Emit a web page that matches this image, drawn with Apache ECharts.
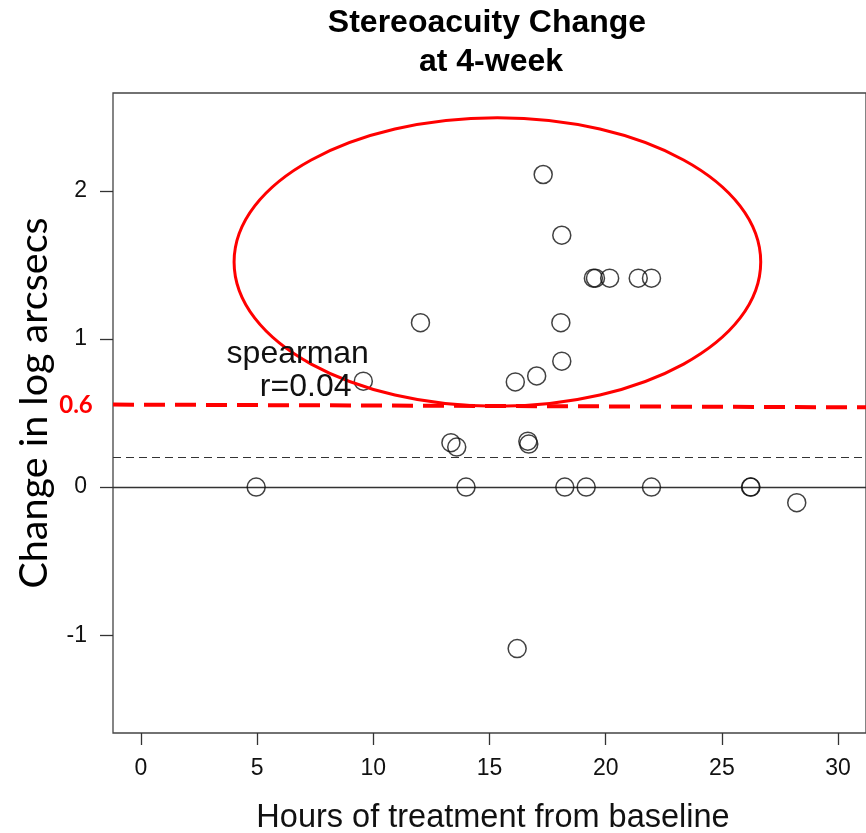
<!DOCTYPE html>
<html><head><meta charset="utf-8">
<script src="https://cdn.jsdelivr.net/npm/echarts@6/dist/echarts.min.js"></script>
<style>html,body{margin:0;padding:0;background:#fff}#c{width:866px;height:833px}</style>
</head><body><div id="c"></div>
<script>
// ---- data ----
const hours  = [4.96, 9.57, 12.03, 13.34, 13.59, 13.99, 16.11, 16.19, 16.65, 16.69, 17.03, 17.31, 18.07, 18.11, 18.11, 18.24, 19.16, 19.47, 19.56, 20.17, 21.40, 21.97, 21.97, 26.23, 26.25, 28.22];
const change = [0, 0.715, 1.11, 0.30, 0.27, 0, 0.71, -1.09, 0.31, 0.29, 0.75, 2.11, 1.11, 0.85, 1.70, 0, 0, 1.41, 1.41, 1.41, 1.41, 1.41, 0, 0, 0, -0.105];
const xTicks = [0, 5, 10, 15, 20, 25, 30];
const yTicks = [-1, 0, 1, 2];
const xRange = [-1.2, 31.2];
const yRange = [-1.66, 2.66];
const zeroLine = [0];
const dashedLine = [0.2];
const thresholdStart = [-1.2, 0.557];
const thresholdEnd = [31.2, 0.538];
const thresholdLabel = '0.6';
const ellipseCenter = [15.34, 1.519];
const ellipseRadii = [11.33, 0.974];
const noteLines = ['spearman', 'r=0.04'];
const notePos = [[6.75, 0.90], [7.09, 0.674]];
const titleLines = ['Stereoacuity Change', 'at 4-week'];
const xName = 'Hours of treatment from baseline';
const yName = 'Change in log arcsecs';

const points = hours.map((h, i) => [h, change[i]]);

const chart = echarts.init(document.getElementById('c'), null, {renderer: 'canvas'});
const option = {
  animation: false,
  backgroundColor: '#fff',
  grid: {left: 113, top: 93, width: 760, height: 640, show: true, borderColor: '#444', borderWidth: 1.3, backgroundColor: 'transparent'},
  xAxis: {
    type: 'value', min: xRange[0], max: xRange[1],
    axisLine: {show: false, onZero: false},
    splitLine: {show: false},
    axisTick: {show: true, customValues: xTicks, length: 12, lineStyle: {color: '#333', width: 1.3}},
    axisLabel: {customValues: xTicks, fontFamily: 'Liberation Sans', fontSize: 23, color: '#111', margin: 24}
  },
  yAxis: {
    type: 'value', min: yRange[0], max: yRange[1],
    axisLine: {show: false, onZero: false},
    splitLine: {show: false},
    axisTick: {show: true, customValues: yTicks, length: 13, lineStyle: {color: '#333', width: 1.3}},
    axisLabel: {customValues: yTicks, fontFamily: 'Liberation Sans', fontSize: 23, color: '#111', margin: 26}
  },
  series: [
    {
      type: 'scatter', data: points, symbol: 'circle', symbolSize: 18,
      itemStyle: {color: 'rgba(0,0,0,0)', borderColor: '#111', borderWidth: 1.5},
      z: 5,
      markLine: {
        silent: true, symbol: 'none', animation: false, label: {show: false},
        data: [
          ...zeroLine.map(v => ({yAxis: v, lineStyle: {color: '#333', width: 1.3, type: 'solid'}})),
          ...dashedLine.map(v => ({yAxis: v, lineStyle: {color: '#333', width: 1.2, type: [8, 5]}})),
          [{coord: thresholdStart, lineStyle: {color: '#ff0000', width: 4, type: [21, 10]}}, {coord: thresholdEnd}]
        ]
      }
    }
  ]
};
chart.setOption(option);

const px = pt => chart.convertToPixel({gridIndex: 0}, pt);
const c = px(ellipseCenter);
const corner = px([ellipseCenter[0] + ellipseRadii[0], ellipseCenter[1] + ellipseRadii[1]]);
const thrPix = px(thresholdStart);
const graphics = [
  {type: 'ellipse', z: 20, shape: {cx: c[0], cy: c[1], rx: corner[0] - c[0], ry: c[1] - corner[1]},
   style: {fill: 'none', stroke: '#ff0000', lineWidth: 3}},
  {type: 'text', x: 487, y: 23, z: 20, style: {text: titleLines[0], font: 'bold 32px "Liberation Sans"', fill: '#000', align: 'center', verticalAlign: 'middle'}},
  {type: 'text', x: 491, y: 62, z: 20, style: {text: titleLines[1], font: 'bold 32px "Liberation Sans"', fill: '#000', align: 'center', verticalAlign: 'middle'}},
  {type: 'text', x: 493, y: 818, z: 20, style: {text: xName, font: '32.5px "Liberation Sans"', fill: '#111', align: 'center', verticalAlign: 'middle'}},
  {type: 'text', x: 34, y: 403, rotation: Math.PI / 2, z: 20, style: {text: yName, font: '39.5px Lato', fill: '#000', align: 'center', verticalAlign: 'middle'}},
  {type: 'text', x: 76, y: thrPix[1] + 1, z: 20, style: {text: thresholdLabel, font: 'bold 24px Lato', fill: '#ff0000', align: 'center', verticalAlign: 'middle'}}
];
noteLines.forEach((t, i) => {
  const p = px(notePos[i]);
  graphics.push({type: 'text', x: p[0], y: p[1], z: 20, style: {text: t, font: '32px "Liberation Sans"', fill: '#111', align: 'center', verticalAlign: 'middle'}});
});
chart.setOption({graphic: graphics});
</script>
</body></html>
